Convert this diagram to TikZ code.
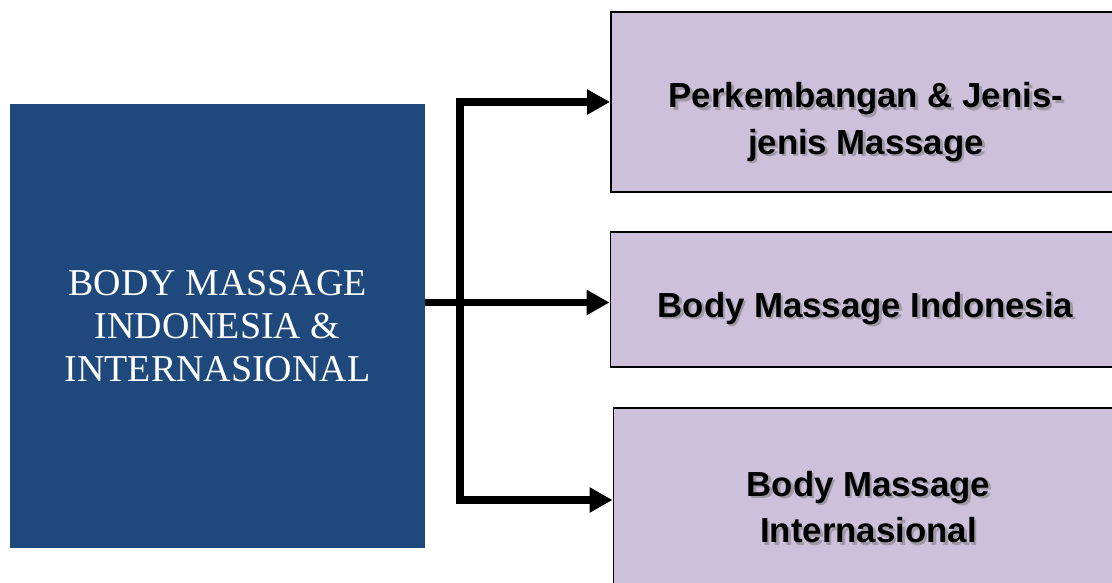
\documentclass[tikz,border=0pt]{standalone}
\usepackage{fontspec}
\setmainfont{Liberation Serif}
\newfontfamily\boxfont{Liberation Sans}
\usepackage{xcolor}
\usetikzlibrary{arrows.meta}
\definecolor{mainblue}{HTML}{1F497D}
\definecolor{sublilac}{HTML}{CCC0DA}
\newcommand\boxlabel[3][0cm]{%
  \node[shade txt, yshift=#1] at ([shift={(0.05,-0.05)}]#2) {#3};
  \node[sub txt, yshift=#1] at (#2) {#3};}

\begin{document}
\begin{tikzpicture}[every text node part/.style={align=center},
  main box/.style={fill=mainblue, text=white, minimum width=8.3cm, minimum height=8.88cm,
    font=\fontsize{21.6}{24.5}\selectfont},
  sub box/.style={fill=sublilac, draw=black, line width=1.1pt, minimum width=10.2cm},
  sub txt/.style={font=\boxfont\bfseries\fontsize{19.8}{26.5}\selectfont, text=black},
  shade txt/.style={sub txt, text=black!50, opacity=0.6},
  conn/.style={line width=4pt, line join=miter, -{Triangle[length=0.46cm,width=0.48cm]}}]

\useasboundingbox (0,0) rectangle (22.24,11.66);
\clip (0,0) rectangle (22.24,11.66);

\node[main box] (body) at (4.35,5.14) {BODY MASSAGE\\ INDONESIA \&\\ INTERNASIONAL};

\node[sub box, minimum height=3.6cm] (box1) at (17.32,9.62) {};
\node[sub box, minimum height=2.7cm] (box2) at (17.31,5.67) {};
\node[sub box, minimum height=3.68cm] (box3) at (17.37,1.66) {};

\boxlabel[-0.4cm]{box1}{Perkembangan \& Jenis-\\jenis Massage}
\boxlabel[-0.18cm]{box2}{Body Massage Indonesia}
\boxlabel[-0.14cm]{box3}{Body Massage\\Internasional}

\coordinate (jt) at (9.2,9.62); %split top
\coordinate (jb) at (9.2,1.66); %split bottom

\draw[conn] (jb) -- (jt) -- (jt -| box1.west);
\draw[conn] (jt) -- (jb) -- (jb -| box3.west);
\draw[conn] ([yshift=-0.06cm]body.east |- box2.west) -- ([yshift=-0.06cm]box2.west);
\end{tikzpicture}
\end{document}
